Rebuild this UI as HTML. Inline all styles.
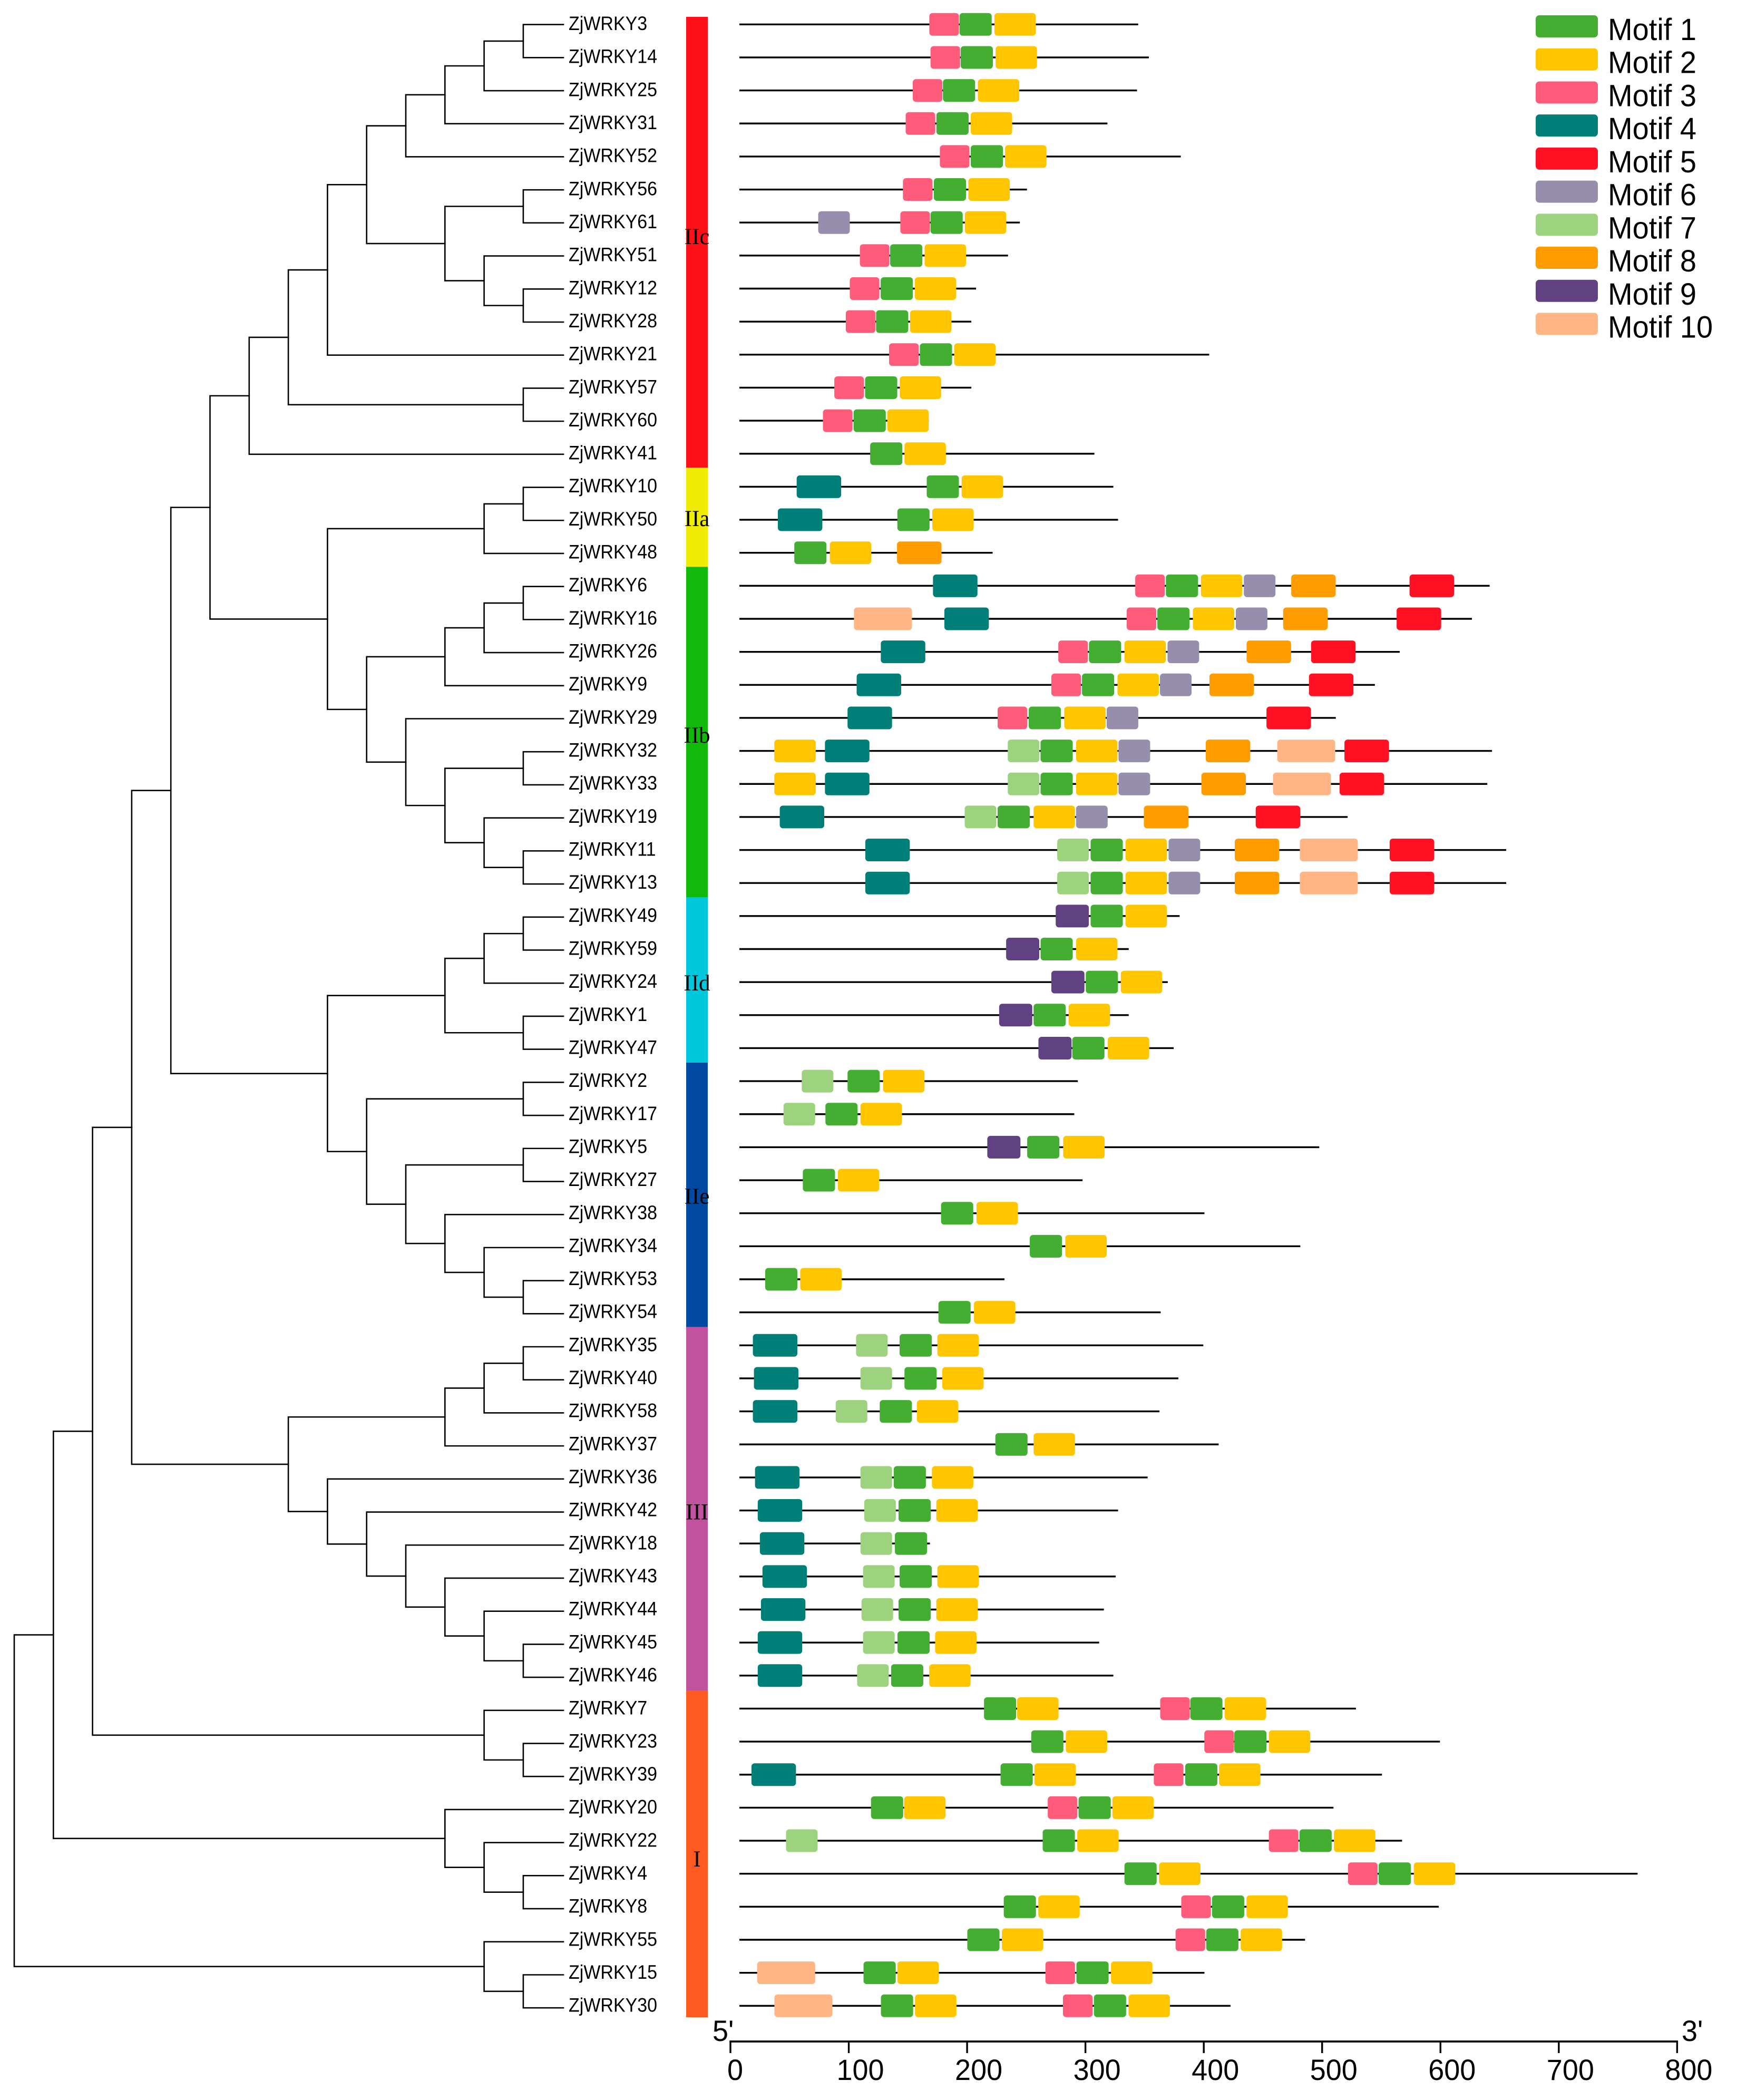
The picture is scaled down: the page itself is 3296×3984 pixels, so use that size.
<!DOCTYPE html>
<html lang="en">
<head>
<meta charset="utf-8">
<title>ZjWRKY phylogeny and conserved motifs</title>
<style>
html,body{margin:0;padding:0;background:#fff}
svg{display:block}
text{font-family:"Liberation Sans",Arial,sans-serif;fill:#000}
.grp{font-family:"Liberation Serif","Times New Roman",serif}
</style>
</head>
<body>
<svg id="chart" xmlns="http://www.w3.org/2000/svg" width="3296" height="3984" viewBox="0 0 3296 3984"></svg>
<script>
const geneNames = ['ZjWRKY3','ZjWRKY14','ZjWRKY25','ZjWRKY31','ZjWRKY52','ZjWRKY56','ZjWRKY61','ZjWRKY51','ZjWRKY12','ZjWRKY28','ZjWRKY21','ZjWRKY57','ZjWRKY60','ZjWRKY41','ZjWRKY10','ZjWRKY50','ZjWRKY48','ZjWRKY6','ZjWRKY16','ZjWRKY26','ZjWRKY9','ZjWRKY29','ZjWRKY32','ZjWRKY33','ZjWRKY19','ZjWRKY11','ZjWRKY13','ZjWRKY49','ZjWRKY59','ZjWRKY24','ZjWRKY1','ZjWRKY47','ZjWRKY2','ZjWRKY17','ZjWRKY5','ZjWRKY27','ZjWRKY38','ZjWRKY34','ZjWRKY53','ZjWRKY54','ZjWRKY35','ZjWRKY40','ZjWRKY58','ZjWRKY37','ZjWRKY36','ZjWRKY42','ZjWRKY18','ZjWRKY43','ZjWRKY44','ZjWRKY45','ZjWRKY46','ZjWRKY7','ZjWRKY23','ZjWRKY39','ZjWRKY20','ZjWRKY22','ZjWRKY4','ZjWRKY8','ZjWRKY55','ZjWRKY15','ZjWRKY30'];

const geneLengths = [337,346,336,311,373,243,237,227,200,196,397,196,160,300,316,320,214,634,619,558,537,504,636,632,514,648,648,372,329,362,329,367,286,283,490,290,393,474,224,356,392,371,355,405,345,320,161,318,308,304,316,521,592,543,502,560,759,591,478,393,415];

const geneMotifs = [
 [[3,160.5],[1,186],[2,215.5]],
 [[3,161.5],[1,187],[2,216.5]],
 [[3,146.5],[1,172],[2,201.5]],
 [[3,140.5],[1,166.5],[2,195.5]],
 [[3,169.4],[1,195.5],[2,224.5]],
 [[3,138.2],[1,164.3],[2,193.5]],
 [[6,66.6],[3,136],[1,161.5],[2,190.5]],
 [[3,101.8],[1,127.4],[2,156.5]],
 [[3,93.3],[1,119.4],[2,148.2]],
 [[3,89.9],[1,115.5],[2,144.2]],
 [[3,126.5],[1,152.5],[2,181.5]],
 [[3,80.2],[1,106.2],[2,135.5]],
 [[3,70.6],[1,96.5],[2,125]],
 [[1,110.5],[2,139.5]],
 [[4,48.4],[1,158.3],[2,187.8]],
 [[4,32.5],[1,133.5],[2,163]],
 [[1,46.4],[2,76.4],[8,133.2]],
 [[4,163.6],[3,334.5],[1,360.4],[2,390],[6,426.3],[8,466.3],[5,566.3]],
 [[10,96.8],[4,173.2],[3,327.3],[1,353.2],[2,383.2],[6,419.5],[8,459.5],[5,555.4]],
 [[4,119.5],[3,269.5],[1,295.4],[2,325.4],[6,361.8],[8,428.6],[5,483.1]],
 [[4,99.1],[3,263.6],[1,289.5],[2,319.5],[6,355.4],[8,397.2],[5,481.3]],
 [[4,91.4],[3,218.2],[1,244.5],[2,274.5],[6,310.4],[5,445.4]],
 [[2,29.5],[4,72.3],[7,226.8],[1,254.5],[2,284.5],[6,320.4],[8,394.1],[10,454.5],[5,511.3]],
 [[2,29.5],[4,72.3],[7,226.8],[1,254.5],[2,284.5],[6,320.4],[8,390.4],[10,450.9],[5,507.2]],
 [[4,34.1],[7,190.4],[1,218.2],[2,248.6],[6,284.5],[8,341.8],[5,436.3]],
 [[4,106.4],[7,268.6],[1,296.8],[2,326.3],[6,362.7],[8,418.6],[10,473.6],[5,549.5]],
 [[4,106.4],[7,268.6],[1,296.8],[2,326.3],[6,362.7],[8,418.6],[10,473.6],[5,549.5]],
 [[9,267.3],[1,296.8],[2,326.3]],
 [[9,225.4],[1,254.5],[2,284.5]],
 [[9,263.6],[1,292.7],[2,322.3]],
 [[9,219.5],[1,248.6],[2,278.2]],
 [[9,252.7],[1,281.3],[2,311.3]],
 [[7,52.7],[1,91.4],[2,121.4]],
 [[7,37.3],[1,72.7],[2,102.3]],
 [[9,209.5],[1,243.2],[2,273.6]],
 [[1,53.6],[2,83.2]],
 [[1,170.4],[2,200.4]],
 [[1,245.4],[2,275.4]],
 [[1,21.8],[2,51.4]],
 [[1,168.2],[2,198.2]],
 [[4,11.4],[7,98.6],[1,135.4],[2,167.3]],
 [[4,12.3],[7,102.3],[1,139.5],[2,171.4]],
 [[4,11.4],[7,81.4],[1,118.6],[2,150]],
 [[1,216.3],[2,248.6]],
 [[4,13.2],[7,102.3],[1,130.4],[2,162.7]],
 [[4,15.5],[7,105.5],[1,134.5],[2,166.4]],
 [[4,17.3],[7,102.3],[1,131.4]],
 [[4,19.5],[7,104.5],[1,135.4],[2,167.3]],
 [[4,18.2],[7,103.2],[1,134.5],[2,166.4]],
 [[4,15.5],[7,104.5],[1,133.6],[2,165.4]],
 [[4,15.5],[7,99.5],[1,128.2],[2,160.4]],
 [[1,206.7],[2,234.7],[3,355.6],[1,381],[2,410.1]],
 [[1,246.6],[2,275.8],[3,392.9],[1,418.2],[2,447.4]],
 [[4,10.2],[1,220.7],[2,249.3],[3,350.2],[1,376.7],[2,405.3]],
 [[1,111.2],[2,139.2],[3,260.6],[1,286.6],[2,315.2]],
 [[7,39.4],[1,256.3],[2,285.5],[3,447.4],[1,473.3],[2,502.4]],
 [[1,325.4],[2,354.6],[3,514.3],[1,540.2],[2,569.9]],
 [[1,223.4],[2,252.6],[3,373.4],[1,399.4],[2,428.5]],
 [[1,192.6],[2,221.8],[3,368.6],[1,394.5],[2,423.6]],
 [[10,15],[1,104.9],[2,133.5],[3,258.6],[1,284.8],[2,314]],
 [[10,29.6],[1,119.6],[2,148.4],[3,273.4],[1,299.6],[2,328.8]]
];

const motifLabels = ['Motif 1','Motif 2','Motif 3','Motif 4','Motif 5','Motif 6','Motif 7','Motif 8','Motif 9','Motif 10'];
const motifColors = ['#44AE33','#FFC600','#FF5C7C','#007F79','#FF1123','#978DAC','#9DD27E','#FF9D00','#604283','#FFB584'];
const motifSpans = [27.2,35,25,37.6,37.6,26.7,26.7,37.6,28,49];

const groupNames = ['IIc','IIa','IIb','IId','IIe','III','I'];
const groupCounts = [14,3,10,5,8,11,10];
const groupColors = ['#FF0F17','#F0EC05','#10B90A','#00C8DC','#0049A0','#C0529E','#FF5A1F'];
const groupLabelRows = [6.42,14.95,21.5,29,35.45,45,55.5];

const axisTicks = [0,100,200,300,400,500,600,700,800];
const axisMax = 800;

/* Tree nodes: [depth level, child, child]; leaves are gene names */
const subIIc = [6,[7,[8,[9,[10,[11,[12,[13,'ZjWRKY3','ZjWRKY14'],'ZjWRKY25'],'ZjWRKY31'],'ZjWRKY52'],[11,[13,'ZjWRKY56','ZjWRKY61'],[12,'ZjWRKY51',[13,'ZjWRKY12','ZjWRKY28']]]],'ZjWRKY21'],[13,'ZjWRKY57','ZjWRKY60']],'ZjWRKY41'];
const subIIa = [12,[13,'ZjWRKY10','ZjWRKY50'],'ZjWRKY48'];
const subIIb = [9,[11,[12,[13,'ZjWRKY6','ZjWRKY16'],'ZjWRKY26'],'ZjWRKY9'],[10,'ZjWRKY29',[11,[13,'ZjWRKY32','ZjWRKY33'],[12,'ZjWRKY19',[13,'ZjWRKY11','ZjWRKY13']]]]];
const subIId = [11,[12,[13,'ZjWRKY49','ZjWRKY59'],'ZjWRKY24'],[13,'ZjWRKY1','ZjWRKY47']];
const subIIe = [9,[13,'ZjWRKY2','ZjWRKY17'],[10,[13,'ZjWRKY5','ZjWRKY27'],[11,'ZjWRKY38',[12,'ZjWRKY34',[13,'ZjWRKY53','ZjWRKY54']]]]];
const subIII = [7,[11,[12,[13,'ZjWRKY35','ZjWRKY40'],'ZjWRKY58'],'ZjWRKY37'],[8,'ZjWRKY36',[9,'ZjWRKY42',[10,'ZjWRKY18',[11,'ZjWRKY43',[12,'ZjWRKY44',[13,'ZjWRKY45','ZjWRKY46']]]]]]];
const subI1 = [12,'ZjWRKY7',[13,'ZjWRKY23','ZjWRKY39']];
const subI2 = [11,'ZjWRKY20',[12,'ZjWRKY22',[13,'ZjWRKY4','ZjWRKY8']]];
const subI3 = [12,'ZjWRKY55',[13,'ZjWRKY15','ZjWRKY30']];
const treeRoot = [0,[1,[2,[3,[4,[5,subIIc,[8,subIIa,subIIb]],[8,subIId,subIIe]],subIII],subI1],subI2],subI3];

/* ---- axis functions ---- */
const axisX = v => 1386 + v * 2.2455;
const geneX = v => axisX(v) + 17;
const geneY = i => 46.3 + 62.65 * i;
const tipY = i => 46.6 + 62.71 * i;
const labelY = i => 57 + 62.66 * i;
const treeX = level => 27 + 74.3 * level;
const TIP_END = 1069;
const BAR_LEFT = 1302, BAR_WIDTH = 41, BAR_TOP = 32, BAR_BOTTOM = 3827;
const AXIS_Y = 3873;

const svg = document.getElementById('chart');
const NS = 'http://www.w3.org/2000/svg';
function make(tag, attrs, parent) {
  const el = document.createElementNS(NS, tag);
  for (const k in attrs) el.setAttribute(k, attrs[k]);
  parent.appendChild(el);
  return el;
}

/* ---- tree ---- */
const treeGroup = make('g', {fill:'none', stroke:'#000', 'stroke-width':2.6, 'stroke-linecap':'square'}, svg);


function drawNode(node) {
  if (typeof node === 'string') return {x: TIP_END, y: tipY(geneNames.indexOf(node)), leaf: true};
  const x = treeX(node[0]);
  const a = drawNode(node[1]);
  const b = drawNode(node[2]);
  const d = `M${a.x} ${a.y}H${x}V${b.y}H${b.x}`;
  const branch = make('path', {d}, treeGroup);
  
  
  return {x, y: (a.y + b.y) / 2};
}
drawNode(treeRoot);

/* ---- gene labels ---- */
geneNames.forEach((name, i) => {
  const t = make('text', {transform:`translate(1079 ${labelY(i)}) scale(1 1.08)`, 'font-size':34}, svg);
  t.textContent = name;
  
  
});

/* ---- subfamily colour bar ---- */
let cumulative = 0;
groupNames.forEach((g, i) => {
  const start = cumulative;
  cumulative += groupCounts[i];
  const top = i === 0 ? BAR_TOP : tipY(start - 0.5) - 6;
  const bottom = i === groupNames.length - 1 ? BAR_BOTTOM : tipY(cumulative - 0.5) - 6;
  const seg = make('rect', {x:BAR_LEFT, y:top, width:BAR_WIDTH, height:bottom-top, fill:groupColors[i]}, svg);
  
  
});
groupNames.forEach((g, i) => {
  const t = make('text', {x:BAR_LEFT+BAR_WIDTH/2, y:tipY(groupLabelRows[i])+14, 'font-size':43, 'text-anchor':'middle', class:'grp'}, svg);
  t.textContent = g;
  
  
});

/* ---- gene structures ---- */
geneNames.forEach((name, i) => {
  const row = make('g', {}, svg);
  
  
  const y = geneY(i);
  const line = make('line', {x1:geneX(0), x2:geneX(geneLengths[i]), y1:y, y2:y, stroke:'#000', 'stroke-width':3.4}, row);
  
  
  geneMotifs[i].forEach(m => {
    const id = m[0] - 1;
    const left = geneX(m[1]);
    const r = make('rect', {x:left, y:y-21.5, width:geneX(m[1]+motifSpans[id])-left, height:43, rx:6, ry:6, fill:motifColors[id]}, row);
    
    
  });
});

/* ---- scale axis ---- */
const axisGroup = make('g', {stroke:'#000'}, svg);


const axisLine = make('line', {x1:axisX(0)-1.7, x2:axisX(axisMax)+1.7, y1:AXIS_Y, y2:AXIS_Y, 'stroke-width':3.8}, axisGroup);


axisTicks.forEach(v => {
  const tick = make('line', {x1:axisX(v), x2:axisX(v), y1:AXIS_Y, y2:AXIS_Y+22, 'stroke-width':3.4}, axisGroup);
  
  
  const label = String(v);
  const t = make('text', {transform:`translate(${axisX(v)+(label.length > 1 ? 22 : 9)} 3946) scale(1 1.03)`, 'font-size':54, 'text-anchor':'middle'}, svg);
  t.textContent = label;
  
  
});
const fivePrime = make('text', {transform:'translate(1352 3872) scale(1 1.03)', 'font-size':54}, svg);
fivePrime.textContent = "5'";


const threePrime = make('text', {transform:'translate(3191 3872) scale(1 1.03)', 'font-size':54}, svg);
threePrime.textContent = "3'";



/* ---- legend ---- */
motifLabels.forEach((label, i) => {
  const entry = make('g', {}, svg);
  
  
  const swatch = make('rect', {x:2914, y:29+62.72*i, width:118, height:42, rx:7, ry:7, fill:motifColors[i]}, entry);
  
  
  const t = make('text', {transform:`translate(3051 ${76+62.72*i}) scale(1 1.04)`, 'font-size':56}, entry);
  t.textContent = label;
  
  
});
</script>
</body>
</html>
